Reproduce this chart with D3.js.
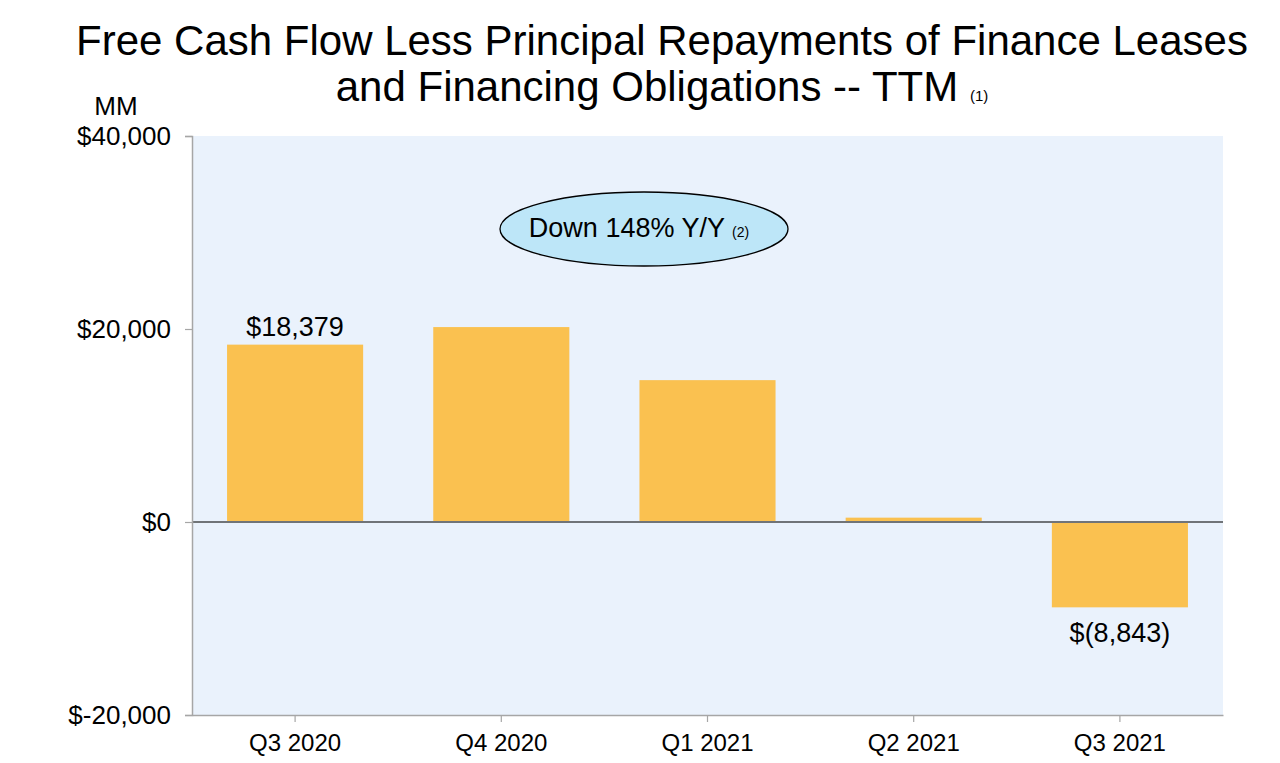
<!DOCTYPE html>
<html>
<head>
<meta charset="utf-8">
<script src="https://cdn.jsdelivr.net/npm/d3@7"></script>
<style>
  html, body { margin: 0; padding: 0; background: #ffffff; }
  svg { display: block; font-family: "Liberation Sans", Arial, Helvetica, sans-serif; }
</style>
</head>
<body>
<svg id="chart" width="1280" height="763"></svg>
<script>
// ---- Data ----
const categories = ["Q3 2020", "Q4 2020", "Q1 2021", "Q2 2021", "Q3 2021"];
const values = [18379, 20200, 14700, 450, -8843];
const dataLabels = ["$18,379", null, null, null, "$(8,843)"];
const yTicks = [-20000, 0, 20000, 40000];
const yTickLabels = ["$-20,000", "$0", "$20,000", "$40,000"];
const titleLines = ["Free Cash Flow Less Principal Repayments of Finance Leases", "and Financing Obligations -- TTM"];
const titleNote = "(1)";
const calloutText = "Down 148% Y/Y";
const calloutNote = "(2)";
const unitLabel = "MM";

// ---- Layout ----
const svg = d3.select("#chart");
const plot = { left: 192, right: 1223, top: 136, bottom: 715 };

const x = d3.scaleBand()
  .domain(categories)
  .range([plot.left, plot.right])
  .paddingInner(0.34)
  .paddingOuter(0.17);

const y = d3.scaleLinear()
  .domain([-20000, 40000])
  .range([plot.bottom, plot.top]);

// Plot background
svg.append("rect")
  .attr("x", plot.left).attr("y", plot.top)
  .attr("width", plot.right - plot.left)
  .attr("height", plot.bottom - plot.top)
  .attr("fill", "#eaf2fc");

// Bars
svg.append("g").selectAll("rect")
  .data(values)
  .join("rect")
  .attr("x", (d, i) => x(categories[i]))
  .attr("width", x.bandwidth())
  .attr("y", d => y(Math.max(0, d)))
  .attr("height", d => Math.abs(y(d) - y(0)))
  .attr("fill", "#fac150");

// Zero line
svg.append("line")
  .attr("x1", plot.left).attr("x2", plot.right)
  .attr("y1", y(0)).attr("y2", y(0))
  .attr("stroke", "#707478").attr("stroke-width", 1.8);

// Y axis
const yAxis = d3.axisLeft(y)
  .tickValues(yTicks)
  .tickFormat(d => yTickLabels[yTicks.indexOf(d)])
  .tickSize(7)
  .tickPadding(14);
const gy = svg.append("g")
  .attr("transform", `translate(${plot.left},0)`)
  .call(yAxis);
gy.select(".domain").attr("stroke", "#a6a6a6").attr("stroke-width", 1.5);
gy.selectAll(".tick line").attr("stroke", "#a6a6a6").attr("stroke-width", 1.2);
gy.selectAll(".tick text")
  .attr("font-size", 26)
  .attr("fill", "#000")
  .attr("font-family", "Liberation Sans, Arial, sans-serif");

// X axis
const xAxis = d3.axisBottom(x).tickSize(7).tickPadding(12).tickSizeOuter(0);
const gx = svg.append("g")
  .attr("transform", `translate(0,${plot.bottom})`)
  .call(xAxis);
gx.select(".domain").attr("stroke", "#a6a6a6").attr("stroke-width", 1.5);
gx.selectAll(".tick line").attr("stroke", "#a6a6a6").attr("stroke-width", 1.2);
gx.selectAll(".tick text")
  .attr("font-size", 24)
  .attr("fill", "#000")
  .attr("font-family", "Liberation Sans, Arial, sans-serif");

// Data labels
const labelled = values.map((v, i) => ({ v, i })).filter(d => dataLabels[d.i] !== null);
svg.append("g").selectAll("text")
  .data(labelled)
  .join("text")
  .attr("x", d => x(categories[d.i]) + x.bandwidth() / 2)
  .attr("y", d => d.v >= 0 ? y(d.v) - 9 : y(d.v) + 35)
  .attr("text-anchor", "middle")
  .attr("font-size", 27)
  .attr("fill", "#000")
  .text(d => dataLabels[d.i]);

// Unit label
svg.append("text")
  .attr("x", 116).attr("y", 115)
  .attr("text-anchor", "middle")
  .attr("font-size", 26)
  .text(unitLabel);

// Title
const title = svg.append("text")
  .attr("text-anchor", "middle")
  .attr("font-size", 42)
  .attr("fill", "#000");
title.append("tspan").attr("x", 662).attr("y", 55).text(titleLines[0]);
const t2 = title.append("tspan").attr("x", 662).attr("y", 101);
t2.append("tspan").text(titleLines[1] + " ");
t2.append("tspan").attr("font-size", 15).text(titleNote);

// Callout ellipse
svg.append("ellipse")
  .attr("cx", 644).attr("cy", 229)
  .attr("rx", 144).attr("ry", 37)
  .attr("fill", "#bde6f8")
  .attr("stroke", "#000").attr("stroke-width", 1.3);
const callout = svg.append("text")
  .attr("x", 639).attr("y", 237)
  .attr("text-anchor", "middle")
  .attr("font-size", 27)
  .attr("fill", "#000");
callout.append("tspan").text(calloutText + " ");
callout.append("tspan").attr("font-size", 14).text(calloutNote);
</script>
</body>
</html>
